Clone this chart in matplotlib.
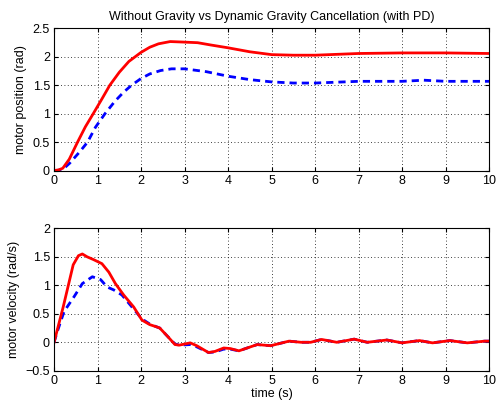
import numpy as np
import matplotlib.pyplot as plt

plt.rcParams['font.family'] = ['Liberation Sans', 'DejaVu Sans']

## POSITION DATA (TOP PANEL), GRAVITY CANCELLATION (RED)
t_pos_gc = [0, 0.1, 0.2, 0.35, 0.54, 0.72, 0.9, 1.1, 1.28, 1.5, 1.72, 1.86, 2.0, 2.2, 2.4, 2.67,
            3.0, 3.3, 3.6, 4.0, 4.5, 5.0, 5.5, 6.0, 7.0, 8.0, 9.0, 10.0]
pos_gc = [0, 0.01, 0.04, 0.2, 0.5, 0.77, 1.0, 1.26, 1.5, 1.73, 1.92, 2.0, 2.08, 2.17, 2.23, 2.27,
          2.26, 2.25, 2.21, 2.16, 2.09, 2.04, 2.03, 2.03, 2.06, 2.07, 2.07, 2.06]

## POSITION DATA (TOP PANEL), WITHOUT GRAVITY (BLUE)
t_pos_ng = [0, 0.1, 0.2, 0.36, 0.59, 0.77, 0.95, 1.17, 1.4, 1.6, 1.78, 2.0, 2.2, 2.45, 2.7,
            3.0, 3.5, 4.0, 4.5, 5.0, 5.5, 6.0, 7.0, 8.0, 8.5, 9.0, 10.0]
pos_ng = [0, 0.005, 0.02, 0.13, 0.33, 0.5, 0.76, 1.0, 1.22, 1.38, 1.5, 1.62, 1.7, 1.76, 1.79,
          1.79, 1.74, 1.66, 1.6, 1.56, 1.54, 1.54, 1.57, 1.57, 1.59, 1.57, 1.57]

## VELOCITY DATA (BOTTOM PANEL), GRAVITY CANCELLATION (RED)
t_vel_gc = [0, 0.21, 0.44, 0.56, 0.65, 0.76, 0.91, 1.1, 1.26, 1.41, 1.6, 1.83, 2.02, 2.2, 2.36, 2.43,
            2.59, 2.78, 2.88, 3.13, 3.28, 3.55, 3.7, 3.9, 4.05, 4.25, 4.44, 4.67, 4.98, 5.4, 5.68,
            5.9, 6.15, 6.5, 6.9, 7.2, 7.65, 8.0, 8.4, 8.7, 9.1, 9.5, 9.9, 10.0]
vel_gc = [0, 0.62, 1.36, 1.52, 1.55, 1.5, 1.45, 1.38, 1.23, 1.03, 0.83, 0.62, 0.39, 0.31, 0.27, 0.25,
          0.12, -0.04, -0.05, -0.01, -0.06, -0.18, -0.16, -0.1, -0.11, -0.15, -0.1, -0.04, -0.06, 0.02, 0.0,
          0.0, 0.05, 0.0, 0.055, 0.0, 0.04, -0.01, 0.03, -0.01, 0.03, -0.01, 0.02, 0.02]

## VELOCITY DATA (BOTTOM PANEL), WITHOUT GRAVITY (BLUE)
t_vel_ng = [0, 0.08, 0.23, 0.46, 0.65, 0.88, 1.07, 1.22, 1.37, 1.56, 1.79, 2.02, 2.2, 2.36, 2.43,
            2.59, 2.78, 2.88, 3.13, 3.28, 3.55, 3.7, 3.9, 4.05, 4.25, 4.44, 4.67, 4.98, 5.4, 5.68,
            5.9, 6.15, 6.5, 6.9, 7.2, 7.65, 8.0, 8.4, 8.7, 9.1, 9.5, 9.9, 10.0]
vel_ng = [0, 0.2, 0.54, 0.8, 1.03, 1.15, 1.1, 0.97, 0.92, 0.83, 0.62, 0.41, 0.32, 0.27, 0.25,
          0.12, -0.03, -0.05, -0.04, -0.08, -0.18, -0.17, -0.12, -0.12, -0.15, -0.1, -0.04, -0.06, 0.02, 0.0,
          0.0, 0.05, 0.0, 0.055, 0.0, 0.04, -0.01, 0.03, -0.01, 0.03, -0.01, 0.02, 0.02]

fig = plt.figure(figsize=(4.96, 4.07), dpi=100)
ax1 = fig.add_axes([0.109, 0.581, 0.877, 0.349])
ax2 = fig.add_axes([0.109, 0.089, 0.877, 0.350])

dash = (0, (2.6, 1.8))
ax1.plot(t_pos_ng, pos_ng, color='blue', linestyle=dash, linewidth=2)
ax1.plot(t_pos_gc, pos_gc, color='red', linewidth=2)
ax2.plot(t_vel_ng, vel_ng, color='blue', linestyle=dash, linewidth=2)
ax2.plot(t_vel_gc, vel_gc, color='red', linewidth=2)

ax1.set_xlim(0, 10)
ax1.set_ylim(0, 2.5)
ax1.set_yticks([0, 0.5, 1, 1.5, 2, 2.5])
ax1.set_yticklabels(['0', '0.5', '1', '1.5', '2', '2.5'])
ax2.set_xlim(0, 10)
ax2.set_ylim(-0.5, 2)
ax2.set_yticks([-0.5, 0, 0.5, 1, 1.5, 2])
ax2.set_yticklabels(['\u22120.5', '0', '0.5', '1', '1.5', '2'])

for ax in (ax1, ax2):
    ax.set_xticks(range(0, 11))
    ax.grid(True, color='black', linestyle=(0, (1, 3)), linewidth=0.6)
    ax.tick_params(direction='in', top=True, right=True, labelsize=9, length=3, pad=3)
    for s in ax.spines.values():
        s.set_linewidth(0.8)

ax1.set_title('Without Gravity vs Dynamic Gravity Cancellation (with PD)', fontsize=9)
ax1.set_ylabel('motor position (rad)', fontsize=9)
ax2.set_ylabel('motor velocity (rad/s)', fontsize=9)
ax2.set_xlabel('time (s)', fontsize=9, labelpad=1)

plt.savefig('out.png', dpi=100)
